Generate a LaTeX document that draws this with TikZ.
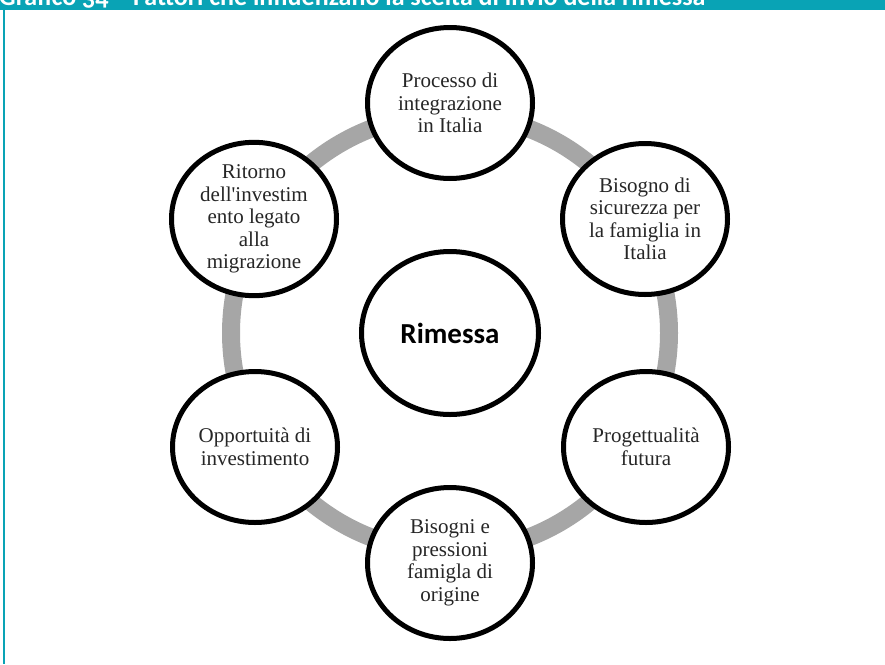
\documentclass[tikz,border=0pt]{standalone}
\usepackage{fontspec}
\setmainfont{Liberation Serif}
\newfontfamily\hdrfont[Numbers=OldStyle]{Carlito}
\newfontfamily\calfont{Carlito}
\usetikzlibrary{shapes.geometric}
\definecolor{teal1}{RGB}{9,163,181}
\definecolor{ringgray}{RGB}{166,166,166}
\tikzset{
  outer/.style={ellipse, draw=black, line width=5pt, fill=white,
    minimum width=165pt, minimum height=151pt, inner sep=0pt, align=center,
    font=\fontsize{21}{22.5}\selectfont, text=black!85},
  hub/.style={ellipse, draw=black, line width=5pt, fill=white,
    minimum width=177pt, minimum height=163pt, inner sep=0pt, align=center,
    font=\calfont\bfseries\fontsize{29}{32}\selectfont},
  ring/.style={draw=ringgray, line width=18pt}
}
\begin{document}
\begin{tikzpicture}[x=1pt,y=-1pt]
\useasboundingbox (0,0) rectangle (885,664);
\clip (0,0) rectangle (885,664);
\fill[teal1] (0,0) rectangle (885,10);
\draw[teal1, line width=2pt] (4,10) -- (4,664);
\node[anchor=base west, text=white, inner sep=0pt,
  font=\hdrfont\bfseries\fontsize{26}{28}\selectfont] (title) at (-1,5)
  {Grafico 34 – Fattori che influenzano la scelta di invio della rimessa};
\coordinate (c) at (450,333);
\draw[ring] (c) circle[radius=219pt];
\node[hub] (hub) at (c) {Rimessa};
\node[outer] (n1) at (450,103) {Processo di\\integrazione\\in Italia};
\node[outer] (n2) at (645,219) {Bisogno di\\sicurezza per\\la famiglia in\\Italia};
\node[outer] (n3) at (646,447) {Progettualità\\futura};
\node[outer] (n4) at (450,563) {Bisogni e\\pressioni\\famigla di\\origine};
\node[outer] (n5) at (255,447) {Opportuità di\\investimento};
\node[outer] (n6) at (254,219) {Ritorno\\dell\textquotesingle investim\\ento legato\\alla\\migrazione};
\end{tikzpicture}
\end{document}
